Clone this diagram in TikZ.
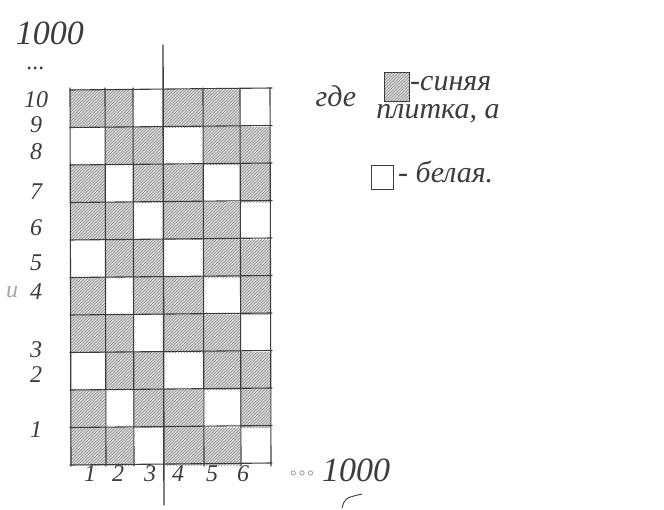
\documentclass[tikz,border=0pt]{standalone}
\usepackage{fontspec}
\setmainfont{Liberation Serif}
\usetikzlibrary{patterns}
\definecolor{ink}{HTML}{3C3C3C}
\tikzset{
  hand/.style={font=\fontsize{30}{32}\selectfont\itshape, text=ink, inner sep=0pt},
  handsmall/.style={font=\fontsize{24}{26}\selectfont\itshape, text=ink, inner sep=0pt},
  gridline/.style={draw=ink, line width=1.1pt, line cap=round},
  shaded/.style={preaction={fill=gray!30}, pattern=north east lines, pattern color=gray!90},
}
\begin{document}
\begin{tikzpicture}[x=1pt,y=-1pt]
\useasboundingbox (0,0) rectangle (664,510);
\fill[white] (0,0) rectangle (664,510);
\def\xs{{70,105,133,163,203,240,270}}
% cells
\foreach \r in {1,...,10}{
  \foreach \c in {1,...,6}{
    \pgfmathtruncatemacro\m{mod(\c+\r,3)}
    \pgfmathsetmacro\xa{\xs[\c-1]}
    \pgfmathsetmacro\xb{\xs[\c]}
    \pgfmathsetmacro\ya{465-37.5*\r}
    \pgfmathsetmacro\yb{465-37.5*(\r-1)}
    \ifnum\m=1\relax\else
      \path[shaded] (\xa,\ya) rectangle (\xb,\yb);
    \fi
  }
}
% grid lines
\foreach \k in {0,...,10}{
  \pgfmathsetmacro\yy{90+37.5*\k}
  \draw[gridline] (70,\yy) -- (272,\yy-2);
}
\foreach \xx in {70,105,133,203,240,270}{
  \draw[gridline] (\xx,88) -- (\xx+1,466);
}
\coordinate (axtop) at (163,45);
\coordinate (axbot) at (164,505);
\draw[gridline, line width=1.4pt] (axtop) -- (axbot);
% row labels
\foreach \lab/\yy in {10/100,9/125,8/152,7/192,6/228,5/263,4/292,3/350,2/375,1/430}{
  \node[handsmall] (row\lab) at (36,\yy) {\lab};
}
\node[handsmall, text=gray!70] (iword) at (12,292) {и};
\node[hand, font=\fontsize{34}{36}\selectfont\itshape] (topnum) at (50,33) {1000};
\node[handsmall] (topdots) at (36,68) {...};
% column labels
\foreach \lab/\xx in {1/90,2/118,3/150,4/178,5/212,6/243}{
  \node[handsmall] (col\lab) at (\xx,474) {\lab};
}
\node[handsmall, font=\fontsize{12}{14}\selectfont] (botdots) at (302,474) {$\circ\circ\circ$};
\node[hand, font=\fontsize{34}{36}\selectfont\itshape] (botnum) at (356,470) {1000};
\coordinate (sw1) at (342,508);
\coordinate (sw2) at (362,494);
\draw[ink, line width=0.9pt] (sw1) .. controls (345,498) .. (sw2);
% legend
\node[hand] (gde) at (336,96) {где};
\node[draw=ink, line width=1pt, shaded, minimum width=25pt, minimum height=29pt, inner sep=0pt] (bluesq) at (397,87) {};
\node[hand, anchor=west] (blue) at (410,84) {-синяя};
\node[hand] (tile) at (438,114) {плитка, а};
\node[draw=ink, line width=1pt, minimum width=22pt, minimum height=24pt, inner sep=0pt] (whitesq) at (382,178) {};
\node[hand, anchor=west] (white) at (398,172) {- белая.};
\end{tikzpicture}
\end{document}
